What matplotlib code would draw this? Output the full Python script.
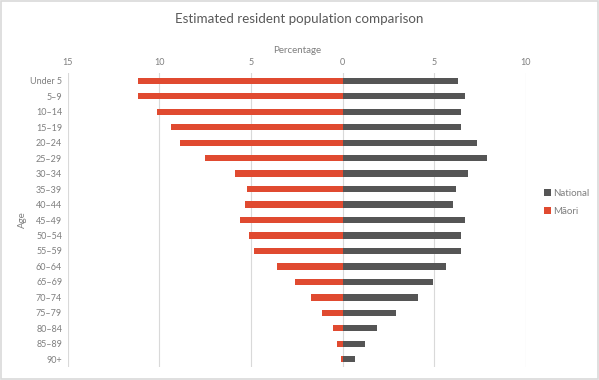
import matplotlib.pyplot as plt
import numpy as np
from matplotlib.patches import Rectangle

plt.rcParams['font.family'] = ['Lato', 'DejaVu Sans']

ages = ['Under 5', '5\u20139', '10\u201314', '15\u201319', '20\u201324', '25\u201329',
        '30\u201334', '35\u201339', '40\u201344', '45\u201349', '50\u201354', '55\u201359',
        '60\u201364', '65\u201369', '70\u201374', '75\u201379', '80\u201384', '85\u201389', '90+']
national = [6.3, 6.7, 6.45, 6.45, 7.35, 7.85, 6.85, 6.2, 6.0, 6.65, 6.45, 6.45,
            5.65, 4.95, 4.1, 2.9, 1.9, 1.2, 0.65]
maori = [11.15, 11.15, 10.15, 9.35, 8.85, 7.5, 5.85, 5.2, 5.3, 5.6, 5.1, 4.85,
         3.6, 2.6, 1.75, 1.1, 0.55, 0.3, 0.1]
xticks = [-15, -10, -5, 0, 5, 10]

RED = '#E04A30'
GREY = '#555555'
TXT = '#7f7f7f'

fig = plt.figure(figsize=(5.99, 3.8), dpi=100)
ax = fig.add_axes([0.113, 0.034, 0.765, 0.774])

y = np.arange(len(ages))
ax.barh(y, national, height=0.4, color=GREY, label='National', zorder=3)
ax.barh(y, [-v for v in maori], height=0.4, color=RED, label='M\u0101ori', zorder=3)

ax.set_xlim(-15, 10)
ax.set_ylim(len(ages) - 0.5, -0.5)
ax.set_xticks(xticks)
ax.set_xticklabels([str(abs(t)) for t in xticks])
ax.xaxis.tick_top()
ax.xaxis.set_label_position('top')
ax.set_yticks(y)
ax.set_yticklabels(ages)
ax.tick_params(axis='both', length=0, labelsize=6.5, labelcolor=TXT, pad=4)
ax.grid(axis='x', color='#d9d9d9', linewidth=0.8, zorder=0)
for s in ax.spines.values():
    s.set_visible(False)

ax.set_xlabel('Percentage', fontsize=7, color=TXT, labelpad=4)
ax.set_ylabel('Age', fontsize=7, color=TXT, labelpad=2)

fig.suptitle('Estimated resident population comparison', x=0.5, y=0.965,
             fontsize=9.6, color='#595959')

ax.legend(loc='center left', bbox_to_anchor=(1.02, 0.56), frameon=False,
          fontsize=7, labelcolor=TXT, handlelength=0.7, handleheight=0.7,
          handletextpad=0.3, labelspacing=0.9)

fig.patches.append(Rectangle((0.002, 0.003), 0.996, 0.994, transform=fig.transFigure,
                             fill=False, edgecolor='#d9d9d9', linewidth=1.2))

fig.savefig('out.png', dpi=100)
